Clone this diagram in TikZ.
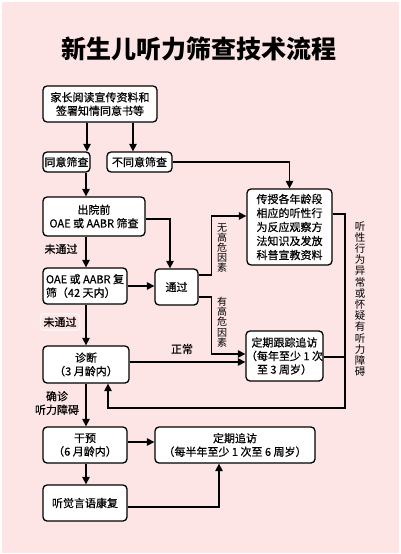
\documentclass[tikz,border=0pt]{standalone}
\usepackage{fontspec}
\setmainfont{Noto Sans CJK SC}
\newfontfamily\medf[FakeBold=0.6]{Noto Sans CJK SC}
\usetikzlibrary{arrows.meta}
\definecolor{bg}{RGB}{253,228,229}
\begin{document}
\begin{tikzpicture}[x=1pt,y=-1pt,
 box/.style={draw=black, line width=1.3pt, rounded corners=4pt, fill=white, inner sep=0pt, font=\medf\fontsize{11}{13.5}\selectfont, align=center},
 arr/.style={line width=1.3pt, -{Triangle[length=7.5pt,width=7.5pt]}},
 ln/.style={line width=1.3pt},
 lbl/.style={font=\medf\fontsize{11}{13.5}\selectfont, align=center, inner sep=0pt},
 vlbl/.style={font=\fontsize{10}{10.2}\selectfont, align=center, inner sep=0pt},
]
\useasboundingbox (0,0) rectangle (400,554);
\fill[white] (0,0) rectangle (400,554);
\fill[bg] (1.5,1.5) rectangle (398.5,552.5);

\node[font=\fontsize{25}{30}\selectfont\bfseries, inner sep=0pt] (title) at (199,49) {新生儿听力筛查技术流程};

\node[box, minimum width=114pt, minimum height=36pt] (b1) at (100,104) {家长阅读宣传资料和\\签署知情同意书等};
\node[box, minimum width=47pt, minimum height=20pt] (agree) at (66.5,162) {同意筛查};
\node[box, minimum width=65pt, minimum height=20pt] (disagree) at (139.5,162) {不同意筛查};
\node[box, minimum width=85pt, minimum height=76pt, font=\medf\fontsize{11}{14}\selectfont] (teach) at (289.5,227) {传授各年龄段\\相应的听性行\\为反应观察方\\法知识及发放\\科普宣教资料};
\node[box, minimum width=102pt, minimum height=39pt] (before) at (94,216.5) {出院前\\OAE 或 AABR 筛查};
\node[box, minimum width=84pt, minimum height=36pt, align=left] (recheck) at (85,286) {OAE 或 AABR 复\\筛（42 天内）};
\node[box, minimum width=43pt, minimum height=36pt] (pass) at (176.5,287) {通过};
\node[box, minimum width=77pt, minimum height=50pt] (follow) at (284.5,356) {定期跟踪追访\\（每年至少 1 次\\至 3 周岁）};
\node[box, minimum width=86pt, minimum height=37pt] (diag) at (86,364.5) {诊断\\（3 月龄内）};
\node[box, minimum width=84pt, minimum height=36pt] (interv) at (85,445) {干预\\（6 月龄内）};
\node[box, minimum width=160pt, minimum height=36pt] (follow2) at (235,445) {定期追访\\（每半年至少 1 次至 6 周岁）};
\node[box, minimum width=84pt, minimum height=36pt] (rehab) at (85,503) {听觉言语康复};

\coordinate (loopTR) at (345,214);
\coordinate (loopBR) at (345,408);

\draw[arr] ([xshift=-13pt]b1.south) -- ([xshift=20.5pt]agree.north);
\draw[arr] ([xshift=33pt]b1.south) -- ([xshift=-6.5pt]disagree.north);
\draw[arr] (disagree.east) -| (teach.north);
\draw[arr] ([xshift=19.5pt]agree.south) -- ([xshift=-8pt]before.north);
\draw[arr] ([yshift=-2.5pt]before.east) -| ([xshift=-6.5pt]pass.north);
\draw[arr] ([xshift=-8pt]before.south) -- ([xshift=1pt]recheck.north);
\draw[arr] (recheck.east) -- (recheck.east -| pass.west);
\draw[arr] ([yshift=12pt]pass.east) -- ++(12.5,0) |- ([yshift=11pt]teach.west);
\draw[arr] ([yshift=-10pt]pass.east) -- ++(12.5,0) |- ([yshift=2pt]follow.west);
\draw[arr] ([xshift=1pt]recheck.south) -- (diag.north);
\draw[arr] ([yshift=2.5pt]diag.east) -- ([yshift=2.5pt]diag.east -| follow.west);
\draw[arr] ([yshift=13pt]teach.east) -- (loopTR) -- (loopBR) -| ([xshift=22pt]diag.south);
\draw[ln] ([yshift=-1pt]follow.east) -- ([yshift=-1pt]follow.east -| loopTR);
\draw[arr] (diag.south) -- ([xshift=1pt]interv.north);
\draw[arr] ([yshift=3pt]interv.east) -- ([yshift=3pt]interv.east -| follow2.west);
\draw[arr] ([xshift=1pt]interv.south) -- ([xshift=1pt]rehab.north);
\draw[arr] ([yshift=-4pt]rehab.east) -| ([xshift=-16pt]follow2.south);

\node[lbl] (l1) at (61,249) {未通过};
\node[lbl, draw=white!60!bg, line width=1.5pt, rounded corners=3pt, inner sep=3pt] (l2) at (60,322) {未通过};
\node[vlbl] (l3) at (222,248) {无\\高\\危\\因\\素};
\node[vlbl] (l4) at (222,322) {有\\高\\危\\因\\素};
\node[lbl] (l5) at (182,349) {正常};
\node[lbl] (l6) at (57,403) {确诊\\听力障碍};
\node[font=\fontsize{10.5}{11.2}\selectfont, align=center, inner sep=0pt] (l7) at (360,299) {听\\性\\行\\为\\异\\常\\或\\怀\\疑\\有\\听\\力\\障\\碍};
\end{tikzpicture}
\end{document}
